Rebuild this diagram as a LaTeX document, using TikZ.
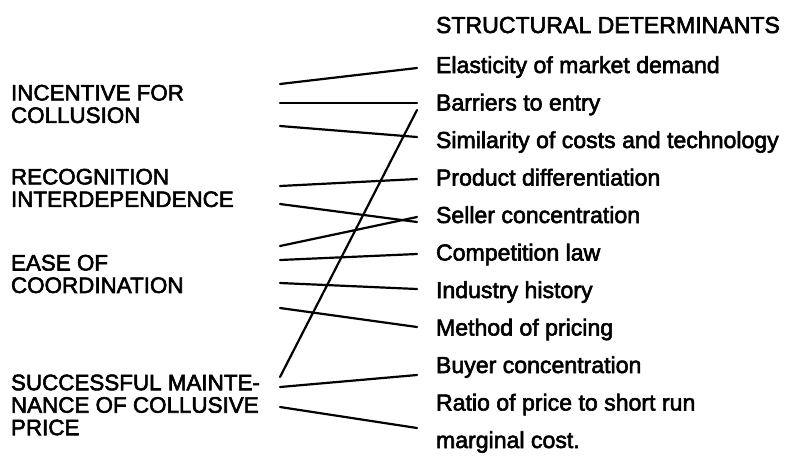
\documentclass[tikz,border=0pt]{standalone}
\usepackage{fontspec}
\setmainfont{Liberation Sans}
\newfontfamily\labelfont{Liberation Sans}[FakeBold=2.5]
\begin{document}
\begin{tikzpicture}[x=1pt,y=-1pt,
  every node/.style={inner sep=0pt,outer sep=0pt},
  goal/.style={anchor=west,align=left,font=\labelfont\fontsize{22.4}{22.5}\selectfont},
  factor/.style={anchor=base west,font=\labelfont\fontsize{23.1}{23.1}\selectfont},
  link/.style={line width=2.2pt,line cap=round}]
\fill[white] (0,0) rectangle (791,456);
\useasboundingbox (0,0) rectangle (791,456);

% conditions for collusion
\node[goal] (inc) at (11,104) {INCENTIVE FOR\\COLLUSION};
\node[goal] (rec) at (11,188) {RECOGNITION\\INTERDEPENDENCE};
\node[goal] (ease) at (11,274) {EASE OF\\COORDINATION};
\node[goal] (succ) at (11,405) {SUCCESSFUL MAINTE-\\NANCE OF COLLUSIVE\\PRICE};

% structural determinants
\node[factor] (head) at (436,33) {STRUCTURAL DETERMINANTS};
\node[factor] (ela) at (436,73) {Elasticity of market demand};
\node[factor] (bar) at (436,110.5) {Barriers to entry};
\node[factor] (sim) at (436,148) {Similarity of costs and technology};
\node[factor] (prod) at (436,185.5) {Product differentiation};
\node[factor] (sell) at (436,223) {Seller concentration};
\node[factor] (law) at (436,260.5) {Competition law};
\node[factor] (hist) at (436,298) {Industry history};
\node[factor] (meth) at (436,335.5) {Method of pricing};
\node[factor] (buy) at (436,373) {Buyer concentration};
\node[factor] (ratio) at (436,410.5) {Ratio of price to short run};
\node[factor] (marg) at (436,448) {marginal cost.};

% line ends on the left
\coordinate (inc-a) at (280,84);
\coordinate (inc-b) at (280,103);
\coordinate (inc-c) at (280,126);
\coordinate (rec-a) at (280,186);
\coordinate (rec-b) at (280,204);
\coordinate (ease-a) at (280,246);
\coordinate (ease-b) at (280,260);
\coordinate (ease-c) at (280,283);
\coordinate (ease-d) at (280,308);
\coordinate (succ-a) at (280,377);
\coordinate (succ-b) at (280,387);
\coordinate (succ-c) at (280,407);

% line ends on the right
\coordinate (ela-in) at (417,68);
\coordinate (bar-in) at (417,103);
\coordinate (bar-low) at (417,110);
\coordinate (sim-in) at (417,137);
\coordinate (prod-in) at (417,179);
\coordinate (sell-in) at (417,222);
\coordinate (sell-in2) at (417,217);
\coordinate (law-in) at (417,254);
\coordinate (hist-in) at (417,289);
\coordinate (meth-in) at (417,327);
\coordinate (buy-in) at (417,375);
\coordinate (ratio-in) at (417,428);

\draw[link] (inc-a) -- (ela-in);
\draw[link] (inc-b) -- (bar-in);
\draw[link] (inc-c) -- (sim-in);
\draw[link] (rec-a) -- (prod-in);
\draw[link] (rec-b) -- (sell-in);
\draw[link] (ease-a) -- (sell-in2);
\draw[link] (ease-b) -- (law-in);
\draw[link] (ease-c) -- (hist-in);
\draw[link] (ease-d) -- (meth-in);
\draw[link] (succ-a) -- (bar-low);
\draw[link] (succ-b) -- (buy-in);
\draw[link] (succ-c) -- (ratio-in);
\end{tikzpicture}
\end{document}
